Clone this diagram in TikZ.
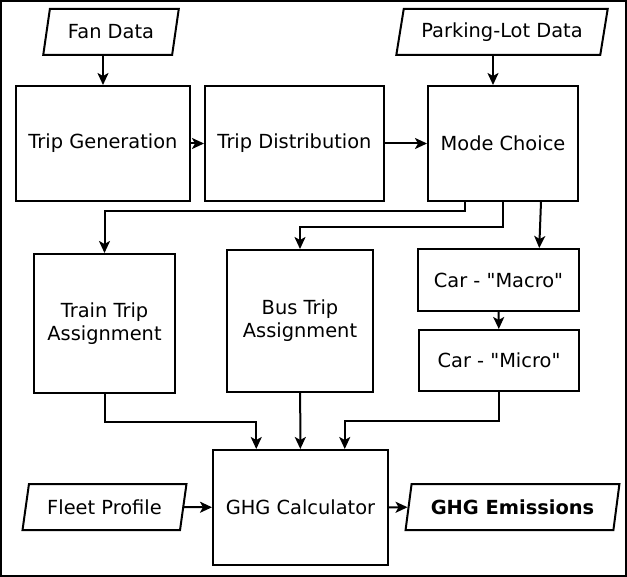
\documentclass[tikz,border=0pt]{standalone}
\usepackage{fontspec}
\setmainfont{DejaVu Sans}
\usetikzlibrary{shapes.geometric}
\usetikzlibrary{arrows.meta}
\usetikzlibrary{calc}
\tikzset{
	flownode/.style = {align=center, inner sep=0pt, text centered,
		font=\fontsize{9.7}{11.6}\selectfont, draw=black, line width=1pt},
	flow_p/.style = {flownode, rectangle},% boite de traitement
	flow_d/.style = {flownode, trapezium, trapezium left angle=72,
		trapezium right angle=108, trapezium stretches=true,
		minimum height=23pt},% donnees entree / sortie
	link/.style = {->, >={Stealth[length=6pt, width=5.5pt, inset=1.5pt]},
		line width=1pt}% fleche
}
\begin{document}
\begin{tikzpicture}[x=0.5pt, y=-0.5pt]
	\useasboundingbox (0,0) rectangle (627,577);
	\draw[line width=1pt] (1,1) rectangle (626,576);
	% donnees
	\node[flow_d, minimum width=68pt] (fan) at (111,32) {Fan Data};
	\node[flow_d, minimum width=106pt] (park) at (502,32) {Parking-Lot Data};
	\node[flow_d, minimum width=82.5pt] (fleet) at (104.5,507) {Fleet Profile};
	\node[flow_d, minimum width=107.5pt, font=\fontsize{9.7}{11.6}\selectfont\bfseries] (emis) at (512.5,507) {GHG Emissions};
	% traitement
	\node[flow_p, minimum width=87pt, minimum height=57.5pt] (gen) at (103,143.5) {Trip Generation};
	\node[flow_p, minimum width=89.5pt, minimum height=57.5pt] (dist) at (294.5,143.5) {Trip Distribution};
	\node[flow_p, minimum width=75pt, minimum height=57.5pt] (mode) at (503,143.5) {Mode Choice};
	\node[flow_p, minimum width=70.5pt, minimum height=69.5pt] (train) at (104.5,323.5) {Train Trip\\Assignment};
	\node[flow_p, minimum width=73pt, minimum height=71pt] (bus) at (300,321) {Bus Trip\\Assignment};
	\node[flow_p, minimum width=80.5pt, minimum height=31pt] (macro) at (498.5,280) {Car - \textquotedbl Macro\textquotedbl};
	\node[flow_p, minimum width=80pt, minimum height=30.5pt] (micro) at (499,360.5) {Car - \textquotedbl Micro\textquotedbl};
	\node[flow_p, minimum width=87.5pt, minimum height=57.5pt] (ghg) at (300.5,507.5) {GHG Calculator};
	% fleches
	\coordinate (park_s) at ($(park.south)+(-9,0)$);
	\draw[link] (fan.south -| gen.north) -- (gen.north);
	\draw[link] (park_s) -- (park_s |- mode.north);
	\draw[link] (gen) -- (dist);
	\draw[link] (dist) -- (mode);
	\draw[link] ($(mode.south west)!0.25!(mode.south east)$) -- ++(0,9) -| (train.north);
	\draw[link] (mode.south) -- ++(0,25) -| (bus.north);
	\draw[link] ($(mode.south west)!0.75!(mode.south east)$) -- ($(macro.north west)!0.75!(macro.north east)$);
	\draw[link] (macro) -- (micro);
	\draw[link] (train.south) -- ++(0,28) -| ($(ghg.north west)!0.25!(ghg.north east)$);
	\draw[link] (bus) -- (ghg);
	\draw[link] (micro.south) -- ++(0,29) -| ($(ghg.north west)!0.75!(ghg.north east)$);
	\draw[link] (fleet) -- (ghg);
	\draw[link] (ghg) -- (emis);
\end{tikzpicture}
\end{document}
